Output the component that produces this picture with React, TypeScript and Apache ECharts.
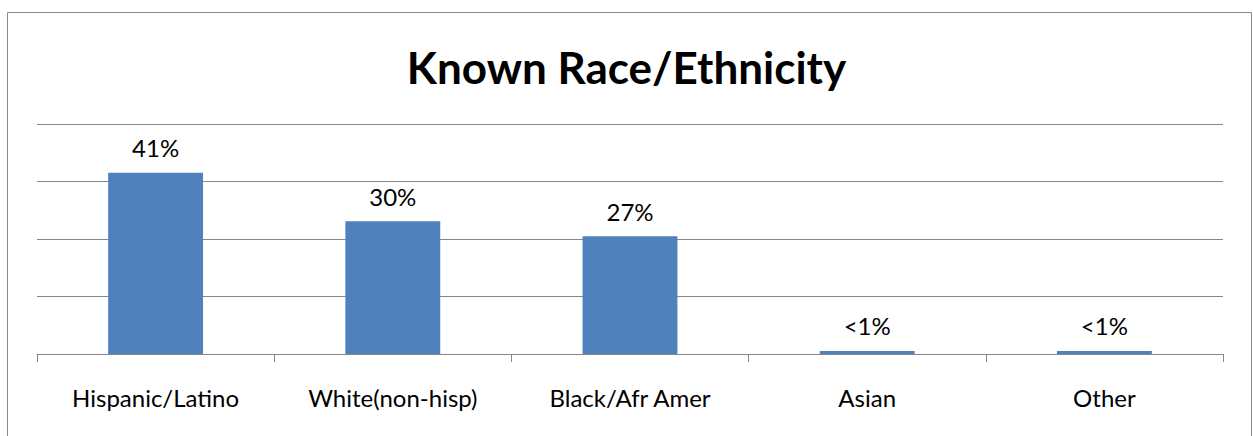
import React, { useEffect, useRef } from "react";
import * as echarts from "echarts";

const title = "Known Race/Ethnicity";
const categories = ["Hispanic/Latino", "White(non-hisp)", "Black/Afr Amer", "Asian", "Other"];
const values = [0.41, 0.3, 0.266, 0.007, 0.007];
const valueLabels = ["41%", "30%", "27%", "<1%", "<1%"];
const yMax = 0.52;
const yInterval = 0.13;

const FONT = "Lato";

export default function App() {
  const ref = useRef<HTMLDivElement>(null);
  useEffect(() => {
    if (!ref.current) return;
    const chart = echarts.init(ref.current, undefined, { renderer: "svg" });
    chart.setOption({
      animation: false,
      backgroundColor: "#ffffff",
      title: {
        text: title,
        left: "center",
        top: 40,
        textStyle: { fontFamily: FONT, fontWeight: "bold", fontSize: 44, color: "#000000" },
      },
      graphic: [
        {
          type: "rect",
          shape: { x: 7.5, y: 12.5, width: 1244, height: 440 },
          style: { fill: "none", stroke: "#878787", lineWidth: 1 },
          silent: true,
        },
      ],
      grid: { left: 37, right: 30, top: 124, bottom: 82, containLabel: false },
      xAxis: {
        type: "category",
        data: categories,
        axisLine: { show: true, lineStyle: { color: "#868686", width: 1 } },
        axisTick: { show: true, length: 8, lineStyle: { color: "#868686" } },
        axisLabel: { margin: 31, fontFamily: FONT, fontSize: 24, color: "#000000" },
      },
      yAxis: {
        type: "value",
        min: 0,
        max: yMax,
        interval: yInterval,
        axisLine: { show: false },
        axisTick: { show: false },
        axisLabel: { show: false },
        splitLine: { show: true, lineStyle: { color: "#868686", width: 1 } },
      },
      series: [
        {
          type: "bar",
          data: values,
          barWidth: "40%",
          itemStyle: { color: "#4F81BD" },
          label: {
            show: true,
            position: "top",
            distance: 13,
            fontFamily: FONT,
            fontSize: 24,
            color: "#000000",
            formatter: (p: any) => valueLabels[p.dataIndex],
          },
        },
      ],
    });
    return () => chart.dispose();
  }, []);
  return (
    <div
      ref={ref}
      style={{ position: "absolute", left: 0, top: 0, width: 1253, height: 436 }}
    />
  );
}
